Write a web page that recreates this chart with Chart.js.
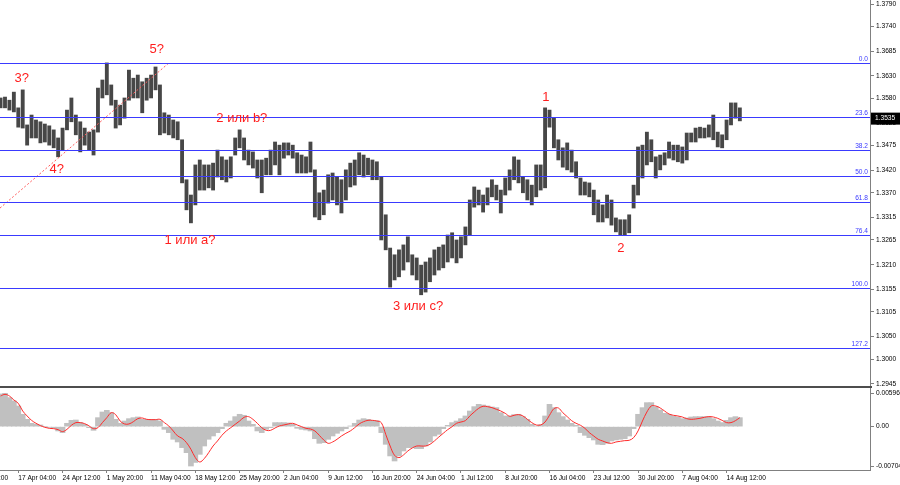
<!DOCTYPE html>
<html>
<head>
<meta charset="utf-8">
<script src="https://cdn.jsdelivr.net/npm/chart.js@4.4.1/dist/chart.umd.min.js"></script>
<style>
  html, body { margin: 0; padding: 0; background: #fff; }
  #wrap { width: 900px; height: 485px; overflow: hidden; }
  canvas { display: block; }
</style>
</head>
<body>
<div id="wrap">
  <canvas id="price-chart" width="900" height="386"></canvas>
  <canvas id="macd-chart" width="900" height="99"></canvas>
</div>
<script>
// H4 bars grouped three at a time; bar index of the first group
const FIRST_BAR = 6;

const barHigh = [
  1.3581, 1.3583, 1.3576, 1.3594, 1.3559, 1.3599, 1.3521, 1.3543, 1.3532, 1.3528,
  1.3523, 1.3519, 1.3510, 1.3492, 1.3514, 1.3554, 1.3581, 1.3543, 1.3528, 1.3514,
  1.3505, 1.3510, 1.3603, 1.3621, 1.3659, 1.3610, 1.3576, 1.3565, 1.3581, 1.3643,
  1.3625, 1.3632, 1.3617, 1.3625, 1.3632, 1.3650, 1.3610, 1.3548, 1.3543, 1.3532,
  1.3528, 1.3488, 1.3399, 1.3365, 1.3432, 1.3443, 1.3432, 1.3432, 1.3436, 1.3465,
  1.3450, 1.3443, 1.3450, 1.3492, 1.3510, 1.3492, 1.3465, 1.3461, 1.3443, 1.3443,
  1.3447, 1.3465, 1.3483, 1.3476, 1.3481, 1.3481, 1.3476, 1.3459, 1.3454, 1.3450,
  1.3483, 1.3421, 1.3370, 1.3376, 1.3410, 1.3414, 1.3405, 1.3399, 1.3421, 1.3436,
  1.3443, 1.3459, 1.3454, 1.3447, 1.3443, 1.3439, 1.3405, 1.3321, 1.3247, 1.3232,
  1.3243, 1.3254, 1.3272, 1.3232, 1.3225, 1.3209, 1.3216, 1.3225, 1.3243, 1.3249,
  1.3254, 1.3276, 1.3281, 1.3265, 1.3272, 1.3294, 1.3354, 1.3383, 1.3376, 1.3365,
  1.3381, 1.3399, 1.3387, 1.3376, 1.3403, 1.3421, 1.3450, 1.3443, 1.3405, 1.3399,
  1.3387, 1.3432, 1.3432, 1.3559, 1.3554, 1.3536, 1.3488, 1.3470, 1.3481, 1.3465,
  1.3439, 1.3403, 1.3394, 1.3392, 1.3376, 1.3354, 1.3343, 1.3365, 1.3354, 1.3314,
  1.3310, 1.3310, 1.3321, 1.3387, 1.3472, 1.3476, 1.3505, 1.3488, 1.3450, 1.3454,
  1.3459, 1.3483, 1.3476, 1.3476, 1.3472, 1.3503, 1.3503, 1.3514, 1.3516, 1.3514,
  1.3521, 1.3543, 1.3505, 1.3499, 1.3532, 1.3570, 1.3570, 1.3559
];
const barLow = [
  1.3559, 1.3559, 1.3554, 1.3550, 1.3516, 1.3514, 1.3476, 1.3492, 1.3492, 1.3481,
  1.3483, 1.3476, 1.3470, 1.3450, 1.3465, 1.3510, 1.3528, 1.3499, 1.3461, 1.3476,
  1.3465, 1.3454, 1.3505, 1.3581, 1.3588, 1.3565, 1.3514, 1.3521, 1.3536, 1.3576,
  1.3581, 1.3581, 1.3548, 1.3576, 1.3581, 1.3599, 1.3499, 1.3503, 1.3499, 1.3492,
  1.3488, 1.3392, 1.3332, 1.3303, 1.3343, 1.3376, 1.3376, 1.3381, 1.3376, 1.3405,
  1.3399, 1.3394, 1.3403, 1.3454, 1.3470, 1.3443, 1.3432, 1.3425, 1.3403, 1.3370,
  1.3410, 1.3410, 1.3432, 1.3410, 1.3447, 1.3454, 1.3447, 1.3414, 1.3414, 1.3414,
  1.3416, 1.3316, 1.3310, 1.3321, 1.3347, 1.3354, 1.3343, 1.3325, 1.3354, 1.3383,
  1.3387, 1.3410, 1.3405, 1.3410, 1.3399, 1.3399, 1.3265, 1.3243, 1.3160, 1.3176,
  1.3183, 1.3198, 1.3216, 1.3187, 1.3176, 1.3143, 1.3149, 1.3172, 1.3187, 1.3198,
  1.3203, 1.3216, 1.3225, 1.3214, 1.3225, 1.3254, 1.3276, 1.3338, 1.3343, 1.3327,
  1.3343, 1.3361, 1.3354, 1.3325, 1.3365, 1.3376, 1.3399, 1.3392, 1.3370, 1.3354,
  1.3343, 1.3361, 1.3376, 1.3381, 1.3516, 1.3470, 1.3443, 1.3427, 1.3421, 1.3416,
  1.3403, 1.3365, 1.3365, 1.3361, 1.3321, 1.3305, 1.3305, 1.3314, 1.3298, 1.3283,
  1.3276, 1.3276, 1.3281, 1.3336, 1.3365, 1.3403, 1.3432, 1.3439, 1.3403, 1.3421,
  1.3432, 1.3447, 1.3443, 1.3439, 1.3436, 1.3443, 1.3483, 1.3483, 1.3492, 1.3492,
  1.3494, 1.3488, 1.3472, 1.3470, 1.3488, 1.3521, 1.3536, 1.3530
];

// MACD main (histogram) and signal line
const macdHist = [
  0.00585, 0.00596, 0.00519, 0.00459, 0.00370, 0.00221, 0.00131, 0.00060, 0.00042, 0.00030,
  0.00000, -0.00012, -0.00024, -0.00077, -0.00107, 0.00060, 0.00113, 0.00119, 0.00072, 0.00042,
  -0.00018, -0.00066, 0.00161, 0.00262, 0.00292, 0.00250, 0.00131, 0.00060, 0.00101, 0.00143,
  0.00161, 0.00173, 0.00131, 0.00131, 0.00131, 0.00131, 0.00101, -0.00048, -0.00107, -0.00226,
  -0.00274, -0.00375, -0.00465, -0.00704, -0.00640, -0.00495, -0.00346, -0.00226, -0.00167, -0.00107,
  -0.00036, 0.00060, 0.00101, 0.00179, 0.00221, 0.00203, 0.00101, 0.00042, -0.00077, -0.00107,
  -0.00048, -0.00018, 0.00072, 0.00072, 0.00072, 0.00066, 0.00042, -0.00030, -0.00048, -0.00060,
  -0.00077, -0.00215, -0.00298, -0.00286, -0.00226, -0.00167, -0.00119, -0.00077, -0.00036, 0.00012,
  0.00060, 0.00119, 0.00143, 0.00131, 0.00113, 0.00107, -0.00107, -0.00316, -0.00524, -0.00614,
  -0.00524, -0.00435, -0.00375, -0.00375, -0.00393, -0.00393, -0.00346, -0.00274, -0.00167, -0.00137,
  -0.00036, 0.00024, 0.00072, 0.00101, 0.00143, 0.00191, 0.00280, 0.00358, 0.00399, 0.00387,
  0.00370, 0.00352, 0.00340, 0.00250, 0.00191, 0.00191, 0.00215, 0.00221, 0.00179, 0.00131,
  0.00042, 0.00012, 0.00036, 0.00191, 0.00399, 0.00340, 0.00250, 0.00179, 0.00119, 0.00060,
  0.00024, -0.00107, -0.00155, -0.00197, -0.00238, -0.00316, -0.00322, -0.00298, -0.00256, -0.00238,
  -0.00226, -0.00215, -0.00167, -0.00036, 0.00221, 0.00340, 0.00429, 0.00429, 0.00358, 0.00298,
  0.00238, 0.00221, 0.00191, 0.00173, 0.00143, 0.00155, 0.00173, 0.00179, 0.00179, 0.00179,
  0.00179, 0.00143, 0.00101, 0.00072, 0.00113, 0.00161, 0.00179, 0.00161
];
const macdSignal = [
  0.00548, 0.00578, 0.00548, 0.00477, 0.00417, 0.00280, 0.00191, 0.00113, 0.00060, 0.00018,
  -0.00012, -0.00030, -0.00036, -0.00054, -0.00089, -0.00048, 0.00024, 0.00072, 0.00072, 0.00054,
  0.00012, -0.00036, -0.00018, 0.00072, 0.00161, 0.00250, 0.00215, 0.00101, 0.00048, 0.00048,
  0.00089, 0.00143, 0.00155, 0.00131, 0.00125, 0.00125, 0.00131, 0.00072, 0.00012, -0.00077,
  -0.00167, -0.00209, -0.00286, -0.00405, -0.00554, -0.00632, -0.00572, -0.00465, -0.00346, -0.00256,
  -0.00155, -0.00077, -0.00018, 0.00042, 0.00101, 0.00167, 0.00179, 0.00131, 0.00060, -0.00018,
  -0.00066, -0.00066, -0.00024, 0.00012, 0.00030, 0.00048, 0.00060, 0.00030, 0.00000, -0.00030,
  -0.00042, -0.00077, -0.00155, -0.00238, -0.00298, -0.00274, -0.00226, -0.00167, -0.00119, -0.00077,
  -0.00018, 0.00048, 0.00089, 0.00113, 0.00113, 0.00101, 0.00072, -0.00137, -0.00346, -0.00513,
  -0.00554, -0.00507, -0.00435, -0.00381, -0.00346, -0.00346, -0.00346, -0.00316, -0.00256, -0.00185,
  -0.00119, -0.00054, 0.00000, 0.00060, 0.00083, 0.00107, 0.00191, 0.00262, 0.00328, 0.00364,
  0.00358, 0.00340, 0.00310, 0.00280, 0.00238, 0.00185, 0.00203, 0.00215, 0.00191, 0.00131,
  0.00072, 0.00030, 0.00030, 0.00083, 0.00203, 0.00322, 0.00334, 0.00250, 0.00179, 0.00107,
  0.00060, 0.00024, -0.00030, -0.00107, -0.00167, -0.00226, -0.00256, -0.00286, -0.00298, -0.00274,
  -0.00262, -0.00250, -0.00244, -0.00197, -0.00077, 0.00101, 0.00262, 0.00370, 0.00370, 0.00334,
  0.00280, 0.00226, 0.00203, 0.00191, 0.00173, 0.00143, 0.00131, 0.00137, 0.00149, 0.00167,
  0.00179, 0.00173, 0.00149, 0.00113, 0.00072, 0.00072, 0.00107, 0.00161
];

// axis ticks
const timeTicks = [0, 10, 20, 30, 40, 50, 60, 70, 80, 90, 100, 110, 120, 130, 140, 150, 160, 170];
const timeLabels = ['9 Apr 20:00', '17 Apr 04:00', '24 Apr 12:00', '1 May 20:00', '11 May 04:00',
  '18 May 12:00', '25 May 20:00', '2 Jun 04:00', '9 Jun 12:00', '16 Jun 20:00', '24 Jun 04:00',
  '1 Jul 12:00', '8 Jul 20:00', '16 Jul 04:00', '23 Jul 12:00', '30 Jul 20:00', '7 Aug 04:00', '14 Aug 12:00'];
const priceTicks = [1.3790, 1.3740, 1.3685, 1.3630, 1.3580, 1.3525, 1.3475, 1.3420, 1.3370,
  1.3315, 1.3265, 1.3210, 1.3155, 1.3105, 1.3050, 1.3000, 1.2945];
const macdTicks = [0.00596, 0, -0.00704];
const macdTickLabels = ['0.00596', '0.00', '-0.00704'];

// fibonacci grid
const fibNames = ['0.0', '23.6', '38.2', '50.0', '61.8', '76.4', '100.0', '127.2'];
const fibPrices = [1.3658, 1.3539, 1.3466, 1.3407, 1.3350, 1.3277, 1.3159, 1.3024];

// wave marks
const waveText = ['3?', '4?', '5?', '2 или b?', '1 или a?', '3 или c?', '1', '2'];
const waveX = [10.8, 18.7, 41.3, 60.5, 48.8, 100.3, 129.2, 146.1];
const waveY = [1.3625, 1.3421, 1.3688, 1.3536, 1.3263, 1.3118, 1.3583, 1.3247];

// dotted trend line
const trendX = [5.87, 43.8];
const trendY = [1.3336, 1.3657];

const lastPrice = 1.3535;

const X_MIN = 5.87;
const X_MAX = 202.4;
const AXIS_W = 30;
const FIB_COLOR = '#3a3aff';
const SMALL_FONT = { family: '"Liberation Sans", Arial, sans-serif', size: 6.6 };

Chart.defaults.font.family = '"Liberation Sans", Arial, sans-serif';
Chart.defaults.color = '#000';

const barIndex = barHigh.map((_, i) => FIRST_BAR + i);

function fixYAxis(scale) {
  scale.width = AXIS_W;
  scale.paddingTop = 0;
  scale.paddingBottom = 0;
}

const overlayPlugin = {
  id: 'overlay',
  afterDatasetsDraw(chart) {
    const { ctx, chartArea, scales } = chart;
    const x = scales.x;
    const y = scales.y;
    ctx.save();
    ctx.beginPath();
    ctx.rect(chartArea.left, chartArea.top, chartArea.width, chartArea.height);
    ctx.clip();

    // fib levels as 1px filled strips
    ctx.setLineDash([]);
    ctx.font = '6.6px "Liberation Sans", Arial, sans-serif';
    ctx.textAlign = 'right';
    ctx.textBaseline = 'bottom';
    fibPrices.forEach((p, i) => {
      const py = Math.round(y.getPixelForValue(p));
      ctx.fillStyle = FIB_COLOR;
      ctx.fillRect(chartArea.left, py, chartArea.width, 1);
      ctx.fillText(fibNames[i], chartArea.right - 2, py - 1);
    });

    ctx.fillStyle = '#ff1e1e';
    ctx.font = '13px "Liberation Sans", Arial, sans-serif';
    ctx.textAlign = 'center';
    ctx.textBaseline = 'middle';
    waveText.forEach((t, i) => {
      ctx.fillText(t, x.getPixelForValue(waveX[i]), y.getPixelForValue(waveY[i]));
    });
    ctx.restore();
  },
  afterDraw(chart) {
    const { ctx, chartArea, scales } = chart;
    const py = scales.y.getPixelForValue(lastPrice);
    ctx.save();
    ctx.fillStyle = '#000';
    ctx.fillRect(chartArea.right + 1, py - 6, 900 - chartArea.right - 1, 12);
    ctx.fillStyle = '#fff';
    ctx.font = '6.6px "Liberation Sans", Arial, sans-serif';
    ctx.textAlign = 'left';
    ctx.textBaseline = 'middle';
    ctx.fillText(lastPrice.toFixed(4), chartArea.right + 5, py);
    ctx.restore();
  }
};

const separatorPlugin = {
  id: 'separator',
  afterDraw(chart) {
    const { ctx, chartArea } = chart;
    ctx.save();
    ctx.fillStyle = '#4d4d4d';
    ctx.fillRect(0, 0, chartArea.right + 2, 2);
    ctx.restore();
  }
};

//PRICE PANEL
const priceConfig = {
  type: 'bar',
  data: {
    datasets: [
      {
        type: 'line',
        data: trendX.map((v, i) => ({ x: v, y: trendY[i] })),
        borderColor: '#ff5c5c',
        borderWidth: 1,
        borderDash: [2, 2],
        pointRadius: 0,
        order: 0,
      },
      {
        data: barIndex.map((v, i) => ({ x: v, y: [barLow[i], barHigh[i]] })),
        backgroundColor: '#474747',
        barThickness: 3.2,
        order: 1,
      },
    ],
  },
  options: {
    responsive: false,
    animation: false,
    events: [],
    layout: { padding: 0 },
    plugins: { legend: { display: false }, tooltip: { enabled: false } },
    scales: {
      x: { type: 'linear', display: false, offset: false, grid: { offset: false }, min: X_MIN, max: X_MAX },
      y: {
        position: 'right',
        min: 1.2940,
        max: 1.3799,
        afterBuildTicks: (scale) => { scale.ticks = priceTicks.map((v) => ({ value: v })); },
        afterFit: fixYAxis,
        grid: { display: true, drawOnChartArea: false, drawTicks: true, tickLength: 4, color: '#808080' },
        border: { display: true, color: '#808080' },
        ticks: { font: SMALL_FONT, padding: 2, callback: (v) => Number(v).toFixed(4) },
      },
    },
  },
  plugins: [overlayPlugin],
};
new Chart(document.querySelector('#price-chart'), priceConfig);

//MACD PANEL
const macdConfig = {
  type: 'bar',
  data: {
    datasets: [
      {
        type: 'line',
        data: barIndex.map((v, i) => ({ x: v, y: macdSignal[i] })),
        borderColor: '#ff2b2b',
        borderWidth: 1,
        pointRadius: 0,
        tension: 0.35,
        order: 0,
      },
      {
        data: barIndex.map((v, i) => ({ x: v, y: macdHist[i] })),
        backgroundColor: '#c0c0c0',
        barThickness: 5,
        order: 1,
      },
    ],
  },
  options: {
    responsive: false,
    animation: false,
    events: [],
    layout: { padding: { top: 2, left: 0, right: 0, bottom: 0 } },
    plugins: { legend: { display: false }, tooltip: { enabled: false } },
    scales: {
      x: {
        type: 'linear',
        offset: false,
        min: X_MIN,
        max: X_MAX,
        afterBuildTicks: (scale) => { scale.ticks = timeTicks.map((v) => ({ value: v })); },
        afterFit: (scale) => { scale.height = 15; scale.paddingLeft = 0; scale.paddingRight = 0; },
        grid: { display: true, offset: false, drawOnChartArea: false, drawTicks: true, tickLength: 3, color: '#808080' },
        border: { display: true, color: '#808080' },
        ticks: {
          font: SMALL_FONT,
          padding: 1,
          align: 'start',
          autoSkip: false,
          maxRotation: 0,
          minRotation: 0,
          callback: (v, i) => timeLabels[i],
        },
      },
      y: {
        position: 'right',
        min: -0.00775,
        max: 0.00691,
        afterBuildTicks: (scale) => { scale.ticks = macdTicks.map((v) => ({ value: v })); },
        afterFit: fixYAxis,
        grid: { display: true, drawOnChartArea: false, drawTicks: true, tickLength: 4, color: '#808080' },
        border: { display: true, color: '#808080' },
        ticks: { font: SMALL_FONT, padding: 2, callback: (v, i) => macdTickLabels[i] },
      },
    },
  },
  plugins: [separatorPlugin],
};
new Chart(document.querySelector('#macd-chart'), macdConfig);
</script>
</body>
</html>
